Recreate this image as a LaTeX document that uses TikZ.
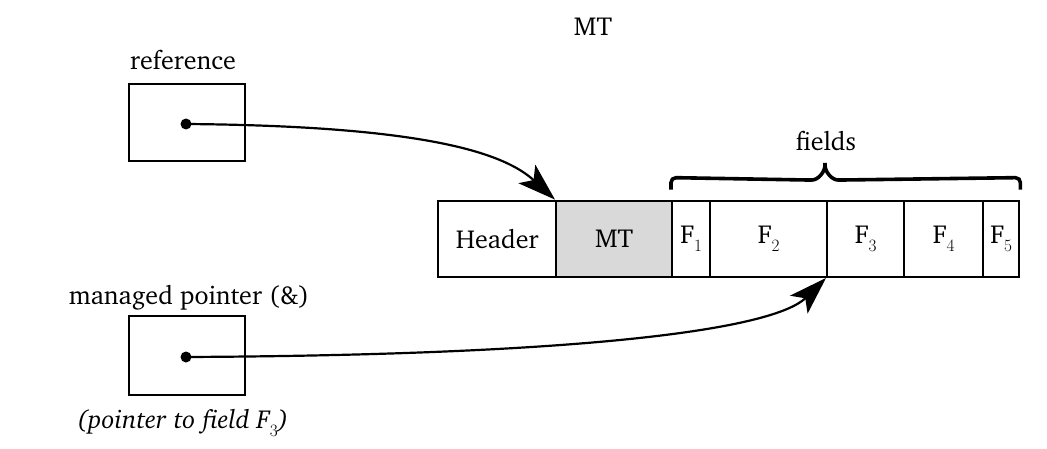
\documentclass[tikz,border=0pt]{standalone}
\usepackage[T1]{fontenc}
\usepackage{charter}
\usetikzlibrary{arrows.meta}
\newcommand\mainsz{\fontsize{26}{31}\selectfont}
\newcommand\Fsub[1]{F\raisebox{-8pt}{\fontsize{17}{17}\selectfont$#1$}}
\begin{document}
\begin{tikzpicture}[x=1pt,y=1pt,
  cell/.style={draw,line width=2.4pt,minimum height=76pt,inner sep=0pt,anchor=south west,font=\mainsz},
  ptrbox/.style={draw,line width=2.4pt,inner sep=0pt,anchor=south west,minimum width=116pt},
  dotnode/.style={circle,fill,inner sep=0pt,minimum size=11pt},
  lbl/.style={font=\mainsz,inner sep=0pt,anchor=base},
  conn/.style={line width=2.2pt,-{Stealth[length=38pt,width=25pt,inset=9pt]}},
  bracestyle/.style={line width=3.6pt,rounded corners=5pt}]
\useasboundingbox (0,0) rectangle (1047,448);
% object row
\node[cell,minimum width=118pt] (hdr) at (437,170) {Header};
\node[cell,minimum width=116pt,fill=gray!30] (mt) at (555,170) {MT};
\node[cell,minimum width=38pt] (f1) at (671,170) {\Fsub{1}};
\node[cell,minimum width=117pt] (f2) at (709,170) {\Fsub{2}};
\node[cell,minimum width=77pt] (f3) at (826,170) {\Fsub{3}};
\node[cell,minimum width=79pt] (f4) at (903,170) {\Fsub{4}};
\node[cell,minimum width=36pt] (f5) at (982,170) {\Fsub{5}};
% labels
\node[lbl] (title) at (593,412) {MT};
\node[lbl] (fields) at (826,297) {fields};
\node[lbl] (reflbl) at (183,378) {reference};
\node[lbl] (mplbl) at (189,144) {managed pointer (\&)};
\node[lbl] (mpnote) at (183,20) {\itshape (pointer to field \Fsub{3})};
% pointer boxes
\node[ptrbox,minimum height=77pt] (refbox) at (128,286) {};
\node[ptrbox,minimum height=79pt] (mpbox) at (128,52) {};
\node[dotnode] (refdot) at (186,324) {};
\node[dotnode] (mpdot) at (186,91) {};
% brace
\coordinate (bl) at ([yshift=10pt]f1.north west);
\coordinate (br) at ([yshift=10pt]f5.north east);
\coordinate (btip) at (825,288);
\draw[bracestyle] (bl) -- ([yshift=12pt]bl) -- (807,268)
  .. controls (818,268) and (825,276) .. (btip)
  .. controls (825,276) and (832,268) .. (843,268)
  -- ([yshift=12pt]br) -- (br);
% connectors
\draw[conn] (refdot.center) .. controls (430,322) and (505,294) .. (mt.north west);
\draw[conn] (mpdot.center) .. controls (600,93) and (775,120) .. (f3.south west);
\end{tikzpicture}
\end{document}
